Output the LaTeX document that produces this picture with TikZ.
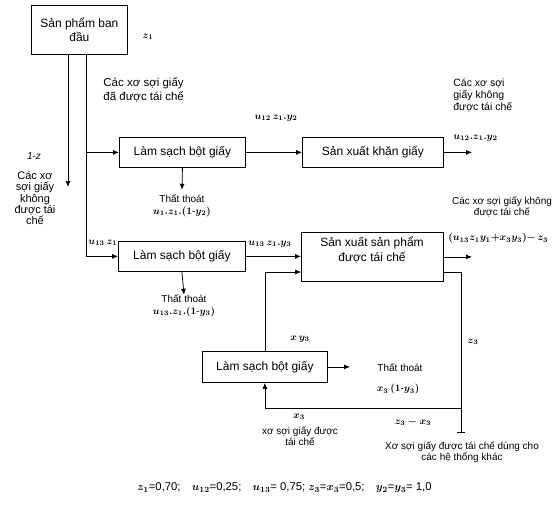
\documentclass[tikz,border=0pt]{standalone}
\usepackage{fontspec}
\setmainfont{Liberation Sans}
\usetikzlibrary{calc}
\usetikzlibrary{arrows.meta}
\usetikzlibrary{positioning}

\begin{document}
\begin{tikzpicture}[x=1pt, y=-1pt, line width=.8pt,
  box/.style={draw, anchor=north west, inner sep=0pt, align=center, font=\fontsize{12}{15}\selectfont},
  lbl/.style={inner sep=0pt, align=center, font=\fontsize{10}{11.5}\selectfont\boldmath},
  flow/.style={-{Latex[length=6pt,width=5pt]}}]
\useasboundingbox (0,0) rectangle (553,509);

\node[box, minimum width=96, minimum height=49] (start) at (31,5) {Sản phẩm ban\\[-1pt]đầu};
\node[box, minimum width=126, minimum height=30] (clean1) at (119,137) {Làm sạch bột giấy};
\node[box, minimum width=141, minimum height=30] (tissue) at (302,137) {Sản xuất khăn giấy};
\node[box, minimum width=127, minimum height=30] (clean2) at (118,241) {Làm sạch bột giấy};
\node[box, minimum width=142, minimum height=49] (recyc) at (301,232) {};
\node[lbl, font=\fontsize{12}{15}\selectfont] (recyctext) at (372,250) {Sản xuất sản phẩm\\được tái chế};
\node[box, minimum width=125, minimum height=31] (clean3) at (202,351) {Làm sạch bột giấy};

\coordinate (trunk) at (86,0);
\coordinate (waste) at (68,187);
\coordinate (out1) at (472,0);
\coordinate (ret) at (0,272);
\coordinate (drop) at (461,433);
\coordinate (back) at (0,408);
\coordinate (loss3) at (350,0);

\draw[flow] (start.south -| waste) -- (waste);
\draw[flow] (start.south -| trunk) |- (clean2.west);
\draw[flow] (trunk |- clean1.west) -- (clean1.west);
\draw[flow] (clean1.east) -- (tissue.west);
\draw[flow] (tissue.east) -- (tissue.east -| out1);
\draw[flow] (clean2.east) -- (clean2.east -| recyc.west);
\draw[flow] (recyc.east) -- (recyc.east -| out1);
\draw[flow] (clean3.north) |- (ret -| recyc.west);
\draw[-{Bar[width=8pt]}] (ret -| recyc.east) -| (drop);
\draw[flow] (back -| drop) -| (clean3.south);
\draw[flow] (clean3.east) -- (clean3.east -| loss3);

\node[lbl] (z1) at (148,37) {$z_1$};
\node[lbl, anchor=west, align=left, font=\fontsize{11.5}{13.5}\selectfont] (usedfib) at (103,90) {Các xơ sợi giấy\\đã được tái chế};
\node[lbl] (onez) at (34,156) {\textit{1-z}};
\node[lbl, font=\fontsize{11}{11.3}\selectfont] (notfib1) at (35,198) {Các xơ\\sợi giấy\\không\\được tái\\chế};
\node[lbl] (lost1) at (182,206) {Thất thoát\\$u_1.z_1.(1\mbox{-}y_2)$};
\draw[flow, shorten >=5pt] (clean1.south) -- (lost1.north);
\node[lbl] (f12) at (276,118) {$u_{12}\,z_1.y_2$};
\node[lbl, anchor=west, align=left, font=\fontsize{10.5}{12}\selectfont] (notfib2) at (453,95) {Các xơ sợi\\giấy không\\được tái chế};
\node[lbl, anchor=west] (f12out) at (453,138) {$u_{12}.z_1.y_2$};
\node[lbl, anchor=west] (f13) at (88,243) {$u_{13}\,z_1$};
\node[lbl, anchor=west] (f13b) at (248,244) {$u_{13}\,z_1.y_3$};
\node[lbl] (lost2) at (184,306) {Thất thoát\\$u_{13}.z_1.(1\mbox{-}y_3)$};
\draw[flow] (clean2.south) -- (lost2.north);
\node[lbl] (notfib3) at (502,207) {Các xơ sợi giấy không\\được tái chế};
\node[lbl, anchor=west] (f5out) at (448,238) {$(u_{13}z_1y_1{+}x_3y_3){-}\,z_3$};
\node[lbl] (xy3) at (300,339) {$x\,y_3$};
\node[lbl] (z3) at (473,342) {$z_3$};
\node[lbl] (lost3) at (400,368) {Thất thoát};
\node[lbl] (lost3f) at (398,389) {$x_3\,(1\mbox{-}y_3)$};
\node[lbl] (x3) at (299,417) {$x_3$};
\node[lbl] (backfib) at (300,436) {xơ sợi giấy được\\tái chế};
\node[lbl] (z3x3) at (413,422) {$z_3 - x_3$};
\node[lbl] (otherfib) at (462,452) {Xơ sợi giấy được tái chế dùng cho\\các hệ thống khác};
\node[lbl, anchor=west, font=\fontsize{11.3}{13}\selectfont\boldmath] (params) at (137,488) {$z_1$=0,70;\quad $u_{12}$=0,25;\quad $u_{13}$= 0,75; $z_3$=$x_3$=0,5;\quad $y_2$=$y_3$= 1,0};
\end{tikzpicture}
\end{document}
